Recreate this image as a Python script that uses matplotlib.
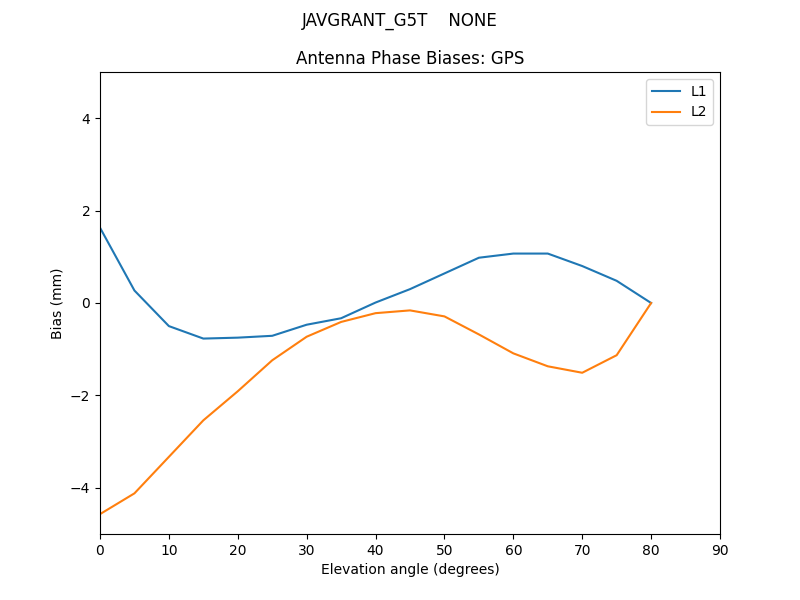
import matplotlib
matplotlib.use("Agg")
import matplotlib.pyplot as plt

elev = [0, 5, 10, 15, 20, 25, 30, 35, 40, 45, 50, 55, 60, 65, 70, 75, 80]
l1 = [1.63, 0.27, -0.50, -0.77, -0.75, -0.71, -0.47, -0.33, 0.01, 0.30, 0.64, 0.98, 1.07, 1.07, 0.80, 0.48, 0.0]
l2 = [-4.57, -4.12, -3.33, -2.54, -1.91, -1.24, -0.73, -0.41, -0.22, -0.16, -0.29, -0.68, -1.09, -1.37, -1.51, -1.13, 0.0]

fig, ax = plt.subplots(figsize=(8, 6), dpi=100)
ax.plot(elev, l1, label="L1")
ax.plot(elev, l2, label="L2")
ax.set_xlim(0, 90)
ax.set_ylim(-5, 5)
ax.set_xlabel("Elevation angle (degrees)")
ax.set_ylabel("Bias (mm)")
ax.set_title("Antenna Phase Biases: GPS")
fig.suptitle("JAVGRANT_G5T    NONE")
ax.legend(loc="upper right")
fig.savefig("out.png", dpi=100)
